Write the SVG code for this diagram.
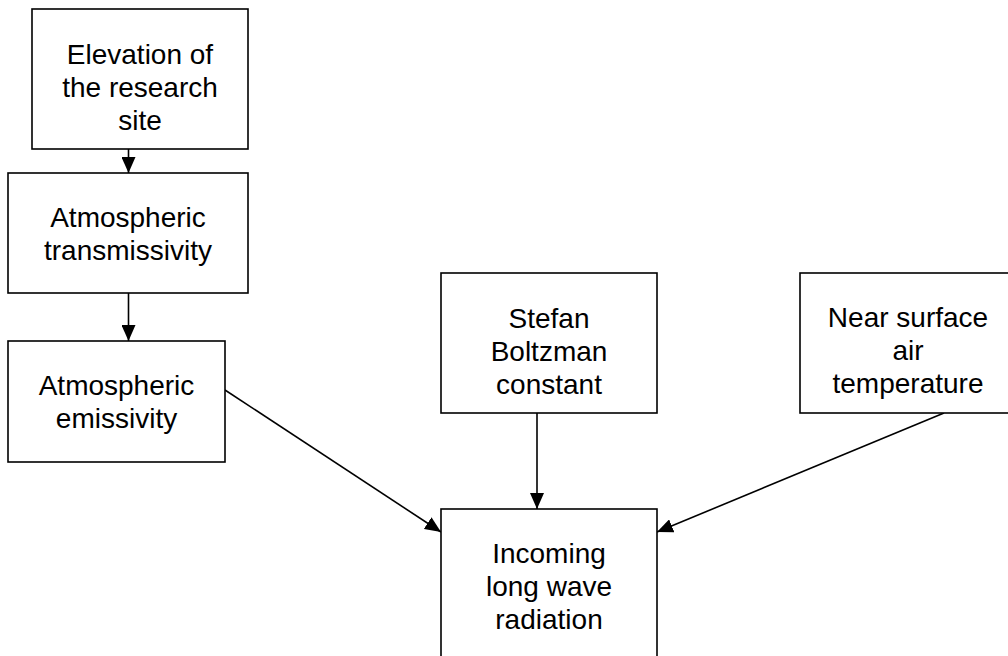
<svg xmlns="http://www.w3.org/2000/svg" width="1008" height="656" viewBox="0 0 1008 656">
  <style>
    .box { fill: #ffffff; stroke: #000000; stroke-width: 1.6; }
    .lbl { font-family: "Liberation Sans", Arial, sans-serif; font-size: 28px; fill: #000000; text-anchor: middle; }
    .conn { stroke: #000000; stroke-width: 1.6; fill: none; marker-end: url(#arrow); }
  </style>
  <defs>
    <marker id="arrow" markerUnits="userSpaceOnUse" markerWidth="16" markerHeight="14" refX="16" refY="7" orient="auto">
      <path d="M0,0 L16,7 L0,14 Z" fill="#000000"/>
    </marker>
  </defs>
  <rect width="1008" height="656" fill="#ffffff"/>

  <g id="connectors">
    <line class="conn" x1="128.5" y1="149" x2="128.5" y2="173"/>
    <line class="conn" x1="128.5" y1="293" x2="128.5" y2="341"/>
    <line class="conn" x1="225" y1="390" x2="441" y2="532"/>
    <line class="conn" x1="537" y1="413" x2="537" y2="509"/>
    <line class="conn" x1="944" y1="413" x2="657" y2="532"/>
  </g>

  <g id="elevation">
    <rect class="box" x="32" y="9" width="216" height="140"/>
    <text class="lbl" x="140" y="64">Elevation of</text>
    <text class="lbl" x="140" y="97">the research</text>
    <text class="lbl" x="140" y="130">site</text>
  </g>

  <g id="transmissivity">
    <rect class="box" x="8" y="173" width="240" height="120"/>
    <text class="lbl" x="128" y="227">Atmospheric</text>
    <text class="lbl" x="128" y="260">transmissivity</text>
  </g>

  <g id="emissivity">
    <rect class="box" x="8" y="341" width="217" height="121"/>
    <text class="lbl" x="116.5" y="395">Atmospheric</text>
    <text class="lbl" x="116.5" y="428">emissivity</text>
  </g>

  <g id="stefan">
    <rect class="box" x="441" y="273" width="216" height="140"/>
    <text class="lbl" x="549" y="328">Stefan</text>
    <text class="lbl" x="549" y="361">Boltzman</text>
    <text class="lbl" x="549" y="394">constant</text>
  </g>

  <g id="nearsurface">
    <rect class="box" x="800" y="273" width="216" height="140"/>
    <text class="lbl" x="908" y="327">Near surface</text>
    <text class="lbl" x="908" y="360">air</text>
    <text class="lbl" x="908" y="393">temperature</text>
  </g>

  <g id="incoming">
    <rect class="box" x="441" y="509" width="216" height="160"/>
    <text class="lbl" x="549" y="563">Incoming</text>
    <text class="lbl" x="549" y="596">long wave</text>
    <text class="lbl" x="549" y="629">radiation</text>
  </g>
</svg>
